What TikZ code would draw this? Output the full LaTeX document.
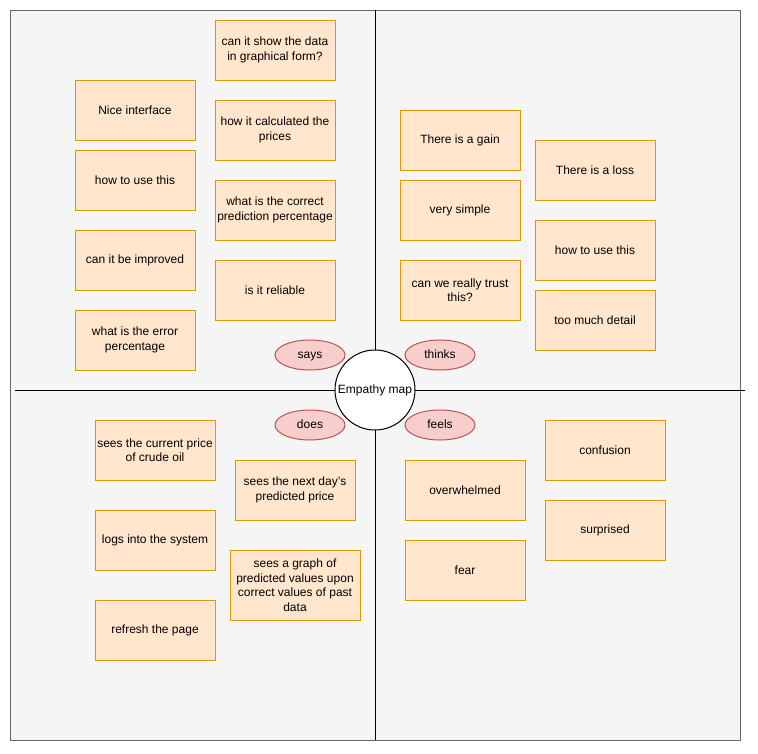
\documentclass[tikz,border=0pt]{standalone}
\usepackage{fontspec}
\setmainfont{Liberation Sans}
\usepackage{tikz}
\usetikzlibrary{shapes.geometric}
\usetikzlibrary{arrows,positioning}
\definecolor{notefill}{HTML}{FFE6CC}
\definecolor{noteline}{HTML}{D79B00}
\definecolor{tagfill}{HTML}{F8CECC}
\definecolor{tagline}{HTML}{B85450}
\definecolor{framefill}{HTML}{F5F5F5}
\definecolor{frameline}{HTML}{666666}
\begin{document}
\begin{tikzpicture}[-,x=1pt,y=-1pt,line width=1pt,font=\fontsize{12}{14.5}\selectfont]
\tikzstyle{note}=[rectangle,draw=noteline,fill=notefill,minimum width=120pt,minimum height=60pt,inner sep=0pt,align=center]
\tikzstyle{tag}=[ellipse,draw=tagline,fill=tagfill,minimum width=70pt,minimum height=30pt,inner sep=0pt,text height=8.5pt,text depth=2.5pt]
\tikzstyle{hub}=[circle,draw=black,fill=white,minimum size=80pt,inner sep=0pt]

\useasboundingbox (0,0) rectangle (758,753);
\draw[draw=frameline,fill=framefill] (10,10) rectangle (740,740);

\coordinate (west) at (15,390);
\coordinate (east) at (745,390);
\coordinate (north) at (375,10);
\coordinate (south) at (375,740);
\path (west) edge[draw=black] (east);
\path (north) edge[draw=black] (south);

\node [hub] (map) at (375,390) {Empathy map};
\node [tag] (says) at (310,355) {says};
\node [tag] (thinks) at (440,355) {thinks};
\node [tag] (does) at (310,425) {does};
\node [tag] (feels) at (440,425) {feels};

% says
\node [note] (s1) at (275,50) {can it show the data\\in graphical form?};
\node [note] (s2) at (135,110) {Nice interface};
\node [note] (s3) at (275,130) {how it calculated the\\prices};
\node [note] (s4) at (135,180) {how to use this};
\node [note] (s5) at (275,210) {what is the correct\\prediction percentage};
\node [note] (s6) at (135,260) {can it be improved};
\node [note] (s7) at (275,290) {is it reliable};
\node [note] (s8) at (135,340) {what is the error\\percentage};

% thinks
\node [note] (t1) at (460,140) {There is a gain};
\node [note] (t2) at (595,170) {There is a loss};
\node [note] (t3) at (460,210) {very simple};
\node [note] (t4) at (595,250) {how to use this};
\node [note] (t5) at (460,290) {can we really trust\\this?};
\node [note] (t6) at (595,320) {too much detail};

% does
\node [note] (d1) at (155,450) {sees the current price\\of crude oil};
\node [note] (d2) at (295,490) {sees the next day's\\predicted price};
\node [note] (d3) at (155,540) {logs into the system};
\node [note] (d4) at (295,585)[minimum width=130pt,minimum height=70pt] {sees a graph of\\predicted values upon\\correct values of past\\data};
\node [note] (d5) at (155,630) {refresh the page};

% feels
\node [note] (f1) at (605,450) {confusion};
\node [note] (f2) at (465,490) {overwhelmed};
\node [note] (f3) at (605,530) {surprised};
\node [note] (f4) at (465,570) {fear};
\end{tikzpicture}
\end{document}
